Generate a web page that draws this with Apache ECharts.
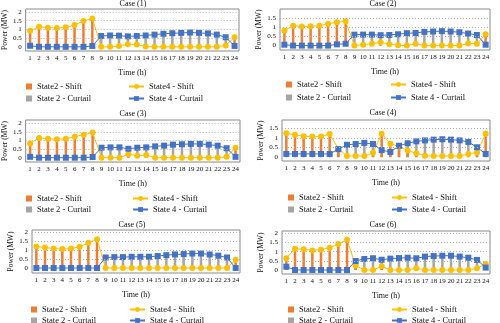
<!DOCTYPE html>
<html>
<head>
<meta charset="utf-8">
<script src="https://cdn.jsdelivr.net/npm/echarts@6/dist/echarts.min.js"></script>
<style>
  html, body { margin: 0; padding: 0; background: #fff; }
  #chart { width: 500px; height: 323px; }
</style>
</head>
<body>
<div id="chart"></div>
<script>
// Hours of the day (x categories)
const hours = ['1','2','3','4','5','6','7','8','9','10','11','12','13','14','15','16','17','18','19','20','21','22','23','24'];

// Y-axis tick labels
const yTicksTo2 = [0, 0.5, 1, 1.5, 2];
const yTicksTo15 = [0, 0.5, 1, 1.5];

// Case (1)
const shift1   = [0.92,1.15,1.10,1.08,1.12,1.25,1.48,1.63,0.00,0.00,0.05,0.15,0.13,0.02,0.00,0.00,0.00,0.00,0.00,0.00,0.00,0.00,0.08,0.55];
const curtail1 = [0.06,0.00,0.00,0.00,0.00,0.00,0.00,0.05,0.62,0.65,0.64,0.60,0.62,0.65,0.70,0.75,0.78,0.80,0.82,0.80,0.77,0.70,0.55,0.05];
// Case (2)
const shift2   = [0.82,1.08,1.05,1.06,1.08,1.19,1.28,1.33,0.00,0.05,0.10,0.18,0.08,0.02,0.00,0.10,0.00,0.00,0.00,0.00,0.00,0.12,0.10,0.62];
const curtail2 = [0.05,0.00,0.00,0.00,0.00,0.00,0.07,0.10,0.60,0.60,0.60,0.57,0.58,0.62,0.68,0.69,0.75,0.77,0.79,0.77,0.73,0.66,0.58,0.05];
// Case (3)
const shift3   = [0.83,1.15,1.10,1.07,1.10,1.22,1.34,1.46,0.00,0.00,0.00,0.20,0.12,0.15,0.00,0.00,0.00,0.00,0.00,0.00,0.00,0.00,0.05,0.58];
const curtail3 = [0.05,0.00,0.00,0.00,0.00,0.00,0.00,0.04,0.58,0.60,0.60,0.52,0.58,0.60,0.66,0.70,0.76,0.78,0.80,0.80,0.76,0.70,0.55,0.05];
// Case (4)
const shift4   = [1.25,1.17,1.10,1.08,1.08,1.21,0.44,0.06,0.06,0.06,0.23,1.23,0.71,0.55,0.35,0.20,0.08,0.06,0.06,0.06,0.06,0.17,0.25,1.23];
const curtail4 = [0.17,0.17,0.17,0.17,0.17,0.17,0.42,0.65,0.69,0.75,0.69,0.37,0.27,0.60,0.73,0.83,0.88,0.92,0.94,0.92,0.88,0.80,0.52,0.17];
// Case (5)
const shift5   = [1.20,1.15,1.09,1.06,1.09,1.19,1.41,1.61,0.00,0.00,0.00,0.00,0.00,0.00,0.00,0.00,0.00,0.00,0.00,0.00,0.00,0.00,0.00,0.46];
const curtail5 = [0.00,0.00,0.00,0.00,0.00,0.00,0.00,0.00,0.59,0.61,0.61,0.63,0.63,0.63,0.67,0.72,0.76,0.78,0.81,0.81,0.76,0.69,0.59,0.00];
// Case (6)
const shift6   = [0.64,1.16,1.13,1.07,1.11,1.22,1.42,1.65,0.24,0.00,0.00,0.20,0.00,0.00,0.00,0.10,0.00,0.00,0.00,0.00,0.00,0.00,0.09,0.33];
const curtail6 = [0.18,0.00,0.00,0.00,0.00,0.00,0.00,0.00,0.49,0.60,0.64,0.56,0.62,0.65,0.67,0.64,0.73,0.76,0.78,0.78,0.73,0.67,0.55,0.13];

const caseTitles = ['Case (1)','Case (2)','Case (3)','Case (4)','Case (5)','Case (6)'];
const shiftSets = [shift1, shift2, shift3, shift4, shift5, shift6];
const curtailSets = [curtail1, curtail2, curtail3, curtail4, curtail5, curtail6];
const tickSets = [yTicksTo2, yTicksTo15, yTicksTo2, yTicksTo15, yTicksTo2, yTicksTo2];

// Panel geometry
const panels = [
  { left: 25,  top: 9,   width: 214, height: 42, ymin: -0.24, ymax: 2.17, titleX: 133, titleY: 0,   row1: 82,  row2: 94,  sqX: 26,  lnX: 128 },
  { left: 280, top: 9,   width: 210, height: 41, ymin: -0.24, ymax: 2.00, titleX: 383, titleY: 0,   row1: 80,  row2: 93,  sqX: 286, lnX: 390 },
  { left: 25,  top: 120, width: 215, height: 42, ymin: -0.25, ymax: 2.19, titleX: 133, titleY: 110, row1: 194, row2: 205, sqX: 26,  lnX: 132 },
  { left: 282, top: 120, width: 208, height: 41, ymin: -0.20, ymax: 1.95, titleX: 383, titleY: 109, row1: 193, row2: 205, sqX: 288, lnX: 391 },
  { left: 32,  top: 230, width: 208, height: 43, ymin: -0.28, ymax: 2.13, titleX: 132, titleY: 221, row1: 305, row2: 316, sqX: 31,  lnX: 129 },
  { left: 282, top: 231, width: 208, height: 43, ymin: -0.22, ymax: 2.13, titleX: 383, titleY: 221, row1: 305, row2: 316, sqX: 288, lnX: 391 }
];

const FONT = "'Liberation Serif', 'DejaVu Serif', serif";
const C_SHIFT2 = '#ED7D31', C_CURT2 = '#A5A5A5', C_SHIFT4 = '#FFC000', C_CURT4 = '#4472C4';

const option = {
  animation: false,
  textStyle: { fontFamily: FONT },
  title: [], grid: [], xAxis: [], yAxis: [], series: [], legend: []
};

const legText = { fontFamily: FONT, fontSize: 8.5, color: '#111' };
function legendItem(left, top, item, iconW) {
  return {
    left: left, top: top, orient: 'horizontal', padding: 0,
    itemWidth: iconW, itemHeight: 6, selectedMode: false, textStyle: legText,
    data: [item]
  };
}

panels.forEach((p, i) => {
  option.title.push({
    text: caseTitles[i], left: p.titleX, top: p.titleY, textAlign: 'center', padding: 0,
    textStyle: { fontFamily: FONT, fontSize: 8, fontWeight: 'normal', color: '#111' }
  });
  option.grid.push({
    left: p.left, top: p.top, width: p.width, height: p.height,
    show: true, borderColor: '#8a8a8a', borderWidth: 1, backgroundColor: '#fff'
  });
  option.xAxis.push({
    type: 'category', gridIndex: i, data: hours,
    axisLine: { show: false }, axisTick: { show: false },
    axisLabel: { fontFamily: FONT, fontSize: 7, color: '#111', margin: 4, interval: 0 },
    name: 'Time (h)', nameLocation: 'middle', nameGap: 18,
    nameTextStyle: { fontFamily: FONT, fontSize: 8, color: '#111' }
  });
  option.yAxis.push({
    type: 'value', gridIndex: i, min: p.ymin, max: p.ymax,
    axisLine: { show: false }, axisTick: { show: false }, splitLine: { show: false },
    axisLabel: { customValues: tickSets[i], fontFamily: FONT, fontSize: 7, color: '#111', margin: 4 },
    name: 'Power (MW)', nameLocation: 'middle', nameGap: 15, nameRotate: 90,
    nameTextStyle: { fontFamily: FONT, fontSize: 7.5, color: '#111' }
  });

  // State 2 and State 4 coincide hour by hour, so the bars share the line values
  option.series.push({
    name: 'State 2 - Curtail', type: 'bar', xAxisIndex: i, yAxisIndex: i,
    data: curtailSets[i], barWidth: 2.5, itemStyle: { color: C_CURT2 }, z: 1,
    markLine: {
      silent: true, symbol: 'none', animation: false, label: { show: false },
      lineStyle: { type: [1, 2], color: '#b0b0b0', width: 1 },
      data: tickSets[i].filter(v => v > 0).map(v => ({ yAxis: v }))
    }
  });
  option.series.push({
    name: 'State2 - Shift', type: 'bar', xAxisIndex: i, yAxisIndex: i,
    data: shiftSets[i], barWidth: 2.5, barGap: '-100%', itemStyle: { color: C_SHIFT2 }, z: 2
  });
  option.series.push({
    name: 'State4 - Shift', type: 'line', xAxisIndex: i, yAxisIndex: i,
    data: shiftSets[i], symbol: 'circle', symbolSize: 6,
    lineStyle: { color: C_SHIFT4, width: 1 }, itemStyle: { color: C_SHIFT4 }, z: 3
  });
  option.series.push({
    name: 'State 4 - Curtail', type: 'line', xAxisIndex: i, yAxisIndex: i,
    data: curtailSets[i], symbol: 'rect', symbolSize: 6,
    lineStyle: { color: C_CURT4, width: 1 }, itemStyle: { color: C_CURT4 }, z: 4
  });

  option.legend.push(legendItem(p.sqX, p.row1, { name: 'State2 - Shift', icon: 'rect' }, 6));
  option.legend.push(legendItem(p.sqX, p.row2, { name: 'State 2 - Curtail', icon: 'rect' }, 6));
  option.legend.push(legendItem(p.lnX, p.row1, 'State4 - Shift', 15));
  option.legend.push(legendItem(p.lnX, p.row2, 'State 4 - Curtail', 15));
});

const chart = echarts.init(document.getElementById('chart'), null, { renderer: 'canvas' });
chart.setOption(option);
</script>
</body>
</html>
